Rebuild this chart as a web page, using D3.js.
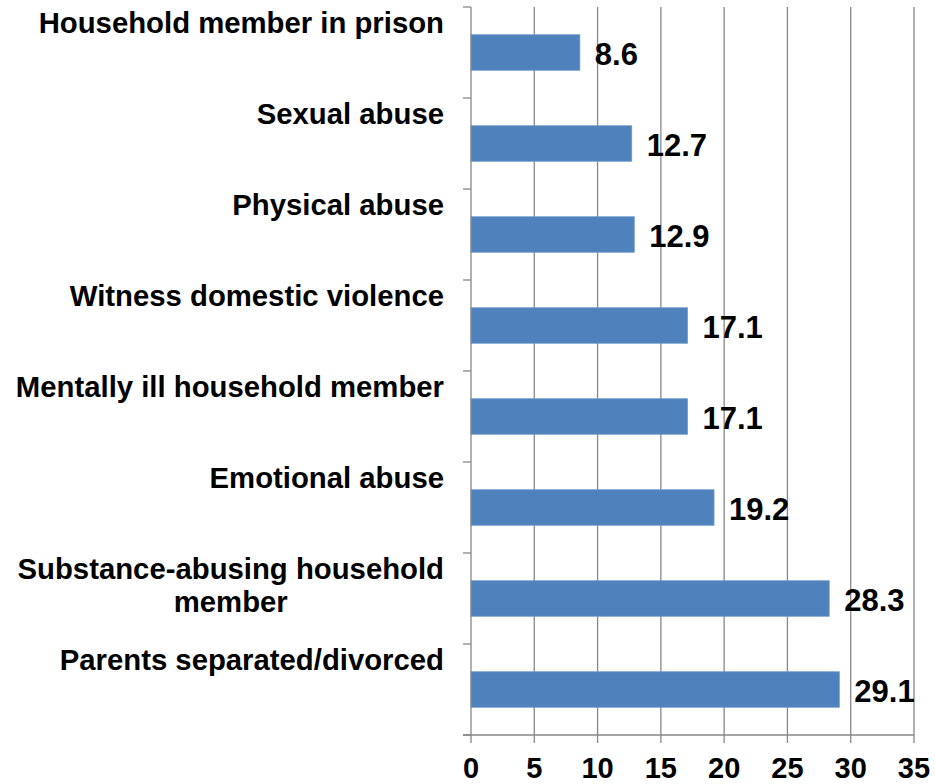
<!DOCTYPE html>
<html>
<head>
<meta charset="utf-8">
<script src="https://cdn.jsdelivr.net/npm/d3@7"></script>
<style>
  html, body { margin: 0; padding: 0; background: #ffffff; }
  svg { display: block; font-family: "Liberation Sans", Arial, sans-serif; font-weight: bold; }
</style>
</head>
<body>
<svg id="chart" width="935" height="784"></svg>
<script>
const categories = [
  "Household member in prison",
  "Sexual abuse",
  "Physical abuse",
  "Witness domestic violence",
  "Mentally ill household member",
  "Emotional abuse",
  "Substance-abusing household member",
  "Parents separated/divorced"
];
const values = [8.6, 12.7, 12.9, 17.1, 17.1, 19.2, 28.3, 29.1];
const xTicks = [0, 5, 10, 15, 20, 25, 30, 35];

(function () {
const svg = d3.select("#chart");
const pLeft = 471, pRight = 914, pTop = 7, pBottom = 735;
const gridColor = "#878787";

const x = d3.scaleLinear().domain([0, 35]).range([pLeft, pRight]);
const y = d3.scaleBand().domain(categories).range([pTop, pBottom])
  .paddingInner(0.61).paddingOuter(0.305);
const band = d3.scaleBand().domain(categories).range([pTop, pBottom]);

// vertical gridlines
svg.append("g").selectAll("line").data(xTicks.filter(t => t > 0)).join("line")
  .attr("x1", d => x(d)).attr("x2", d => x(d))
  .attr("y1", pTop).attr("y2", pBottom)
  .attr("stroke", gridColor).attr("stroke-width", 1.3);

// bars
svg.append("g").selectAll("rect").data(values).join("rect")
  .attr("x", x(0))
  .attr("y", (d, i) => y(categories[i]))
  .attr("width", d => x(d) - x(0))
  .attr("height", y.bandwidth())
  .attr("fill", "#4F81BD")
  .attr("stroke", "#6E98CB").attr("stroke-width", 0.8);

// x axis line & ticks
svg.append("line").attr("x1", pLeft - 8).attr("x2", pRight).attr("y1", pBottom).attr("y2", pBottom)
  .attr("stroke", gridColor).attr("stroke-width", 1.3);
svg.append("g").selectAll("line").data(xTicks).join("line")
  .attr("x1", d => x(d)).attr("x2", d => x(d))
  .attr("y1", pBottom).attr("y2", pBottom + 8)
  .attr("stroke", gridColor).attr("stroke-width", 1.3);

// y axis line & category ticks
svg.append("line").attr("x1", pLeft).attr("x2", pLeft).attr("y1", pTop).attr("y2", pBottom)
  .attr("stroke", gridColor).attr("stroke-width", 1.3);
const catTickYs = categories.map(c => band(c)).concat([pBottom]);
svg.append("g").selectAll("line").data(catTickYs).join("line")
  .attr("x1", pLeft - 8).attr("x2", pLeft)
  .attr("y1", d => d).attr("y2", d => d)
  .attr("stroke", gridColor).attr("stroke-width", 1.3);

// x tick labels
svg.append("g").selectAll("text").data(xTicks).join("text")
  .attr("x", d => x(d)).attr("y", 778)
  .attr("text-anchor", "middle")
  .attr("font-size", "29px").attr("fill", "#000")
  .text(d => d);

// category labels (wrapped, block right-aligned, lines centred)
const maxW = 430, labelRight = 444, catFont = "29.3px";
const catG = svg.append("g");
categories.forEach((c, i) => {
  const probe = svg.append("text").attr("font-size", catFont);
  const measure = s => { probe.text(s); return probe.node().getComputedTextLength(); };
  const words = c.split(" ");
  let lines = [], cur = [];
  words.forEach(w => {
    const trial = cur.concat([w]).join(" ");
    if (measure(trial) > maxW && cur.length) {
      lines.push(cur.join(" "));
      cur = [w];
    } else cur.push(w);
  });
  lines.push(cur.join(" "));
  const blockW = d3.max(lines, measure);
  probe.remove();
  const multi = lines.length > 1;
  const t = catG.append("text")
    .attr("text-anchor", multi ? "middle" : "end")
    .attr("font-size", catFont).attr("fill", "#000");
  lines.forEach((ln, k) => {
    t.append("tspan")
      .attr("x", multi ? labelRight - blockW / 2 : labelRight)
      .attr("y", band(c) + 26 + k * 33).text(ln);
  });
});

// value labels
svg.append("g").selectAll("text").data(values).join("text")
  .attr("x", d => x(d) + 15)
  .attr("y", (d, i) => y(categories[i]) + y.bandwidth() / 2 + 12)
  .attr("font-size", "31px").attr("fill", "#000")
  .text(d => d.toFixed(1));
})();
</script>
</body>
</html>
